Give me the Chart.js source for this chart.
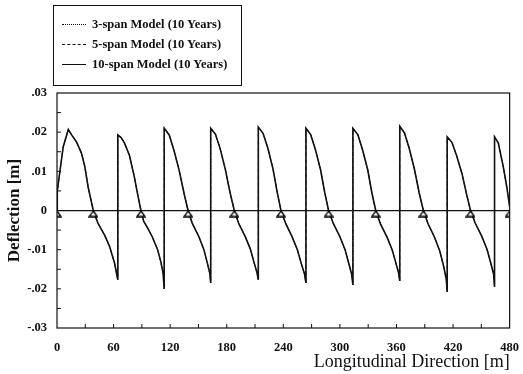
<!DOCTYPE html>
<html>
<head>
<meta charset="utf-8">
<script src="https://cdn.jsdelivr.net/npm/chart.js@4"></script>
<style>
  html, body { margin: 0; padding: 0; background: #fff; }
  #wrap { position: relative; width: 523px; height: 374px; }
  #legend {
    position: absolute; left: 53px; top: 5px; width: 189px; height: 81px;
    border: 1px solid #111; box-sizing: border-box;
    font: bold 12.5px "Liberation Serif", serif; color: #111;
  }
  .row { position: absolute; left: 0; height: 14px; display: flex; align-items: center; }
  .swatch { width: 24px; margin-left: 8px; margin-right: 6px; border-top: 1px solid #111; }
</style>
</head>
<body>
<div id="wrap">
  <canvas id="chart" width="523" height="374"></canvas>
  <div id="legend">
    <div class="row" style="top:11px"><span class="swatch" style="border-top-style:dotted"></span>3-span Model (10 Years)</div>
    <div class="row" style="top:31px"><span class="swatch" style="border-top-style:dashed"></span>5-span Model (10 Years)</div>
    <div class="row" style="top:51px"><span class="swatch"></span>10-span Model (10 Years)</div>
  </div>
</div>
<script>
// position along the bridge [m], one row per span (jumps repeat the x)
const posM = [
  0, 0.3, 6.6, 12, 15.5, 20.7, 26, 29.5, 33, 38.5, 43.5, 50.5, 55.8, 61, 64.5,
  64.5, 68, 71.6, 76.8, 82, 85.5, 89, 92, 95, 101, 106.7, 110, 112.5, 113.7,
  113.7, 119, 124, 129.5, 134.7, 139, 143.5, 150.5, 155.8, 159.5, 162, 163,
  163, 168, 173, 178.5, 183.5, 188, 192.5, 199.5, 205, 209, 212, 213.5,
  213.5, 218.5, 223.5, 229, 233.5, 237.5, 242.5, 249.5, 255, 259, 262.5, 264,
  264, 269, 274, 279.5, 284, 288, 293, 300, 305.5, 309.5, 312.5, 313.8,
  313.8, 319, 324, 329.5, 334, 338, 343, 350, 355.5, 359.5, 362.3, 363.5,
  363.5, 368.5, 373.5, 379, 384, 388.5, 393.5, 400.5, 406, 410, 412.8, 413.8,
  413.8, 418.8, 423.8, 429.5, 434.5, 438.5, 443.5, 450.5, 456, 460, 463, 464,
  464, 468, 473.4, 477, 480
];

// 10-span model deflection [m]
const defl10 = [
  0, 0.005, 0.0163, 0.0207, 0.0193, 0.0175, 0.0146, 0.0112, 0.006, 0, -0.0033, -0.0063, -0.0092, -0.0134, -0.0177,
  0.0193, 0.0186, 0.0172, 0.0141, 0.0086, 0.0042, 0, -0.0028, -0.004, -0.0067, -0.010, -0.013, -0.016, -0.020,
  0.021, 0.0193, 0.0154, 0.0103, 0.0044, 0, -0.0033, -0.0067, -0.010, -0.0135, -0.016, -0.0185,
  0.021, 0.0195, 0.0158, 0.0105, 0.0046, 0, -0.0032, -0.0066, -0.0098, -0.0133, -0.0158, -0.0177,
  0.0213, 0.0197, 0.016, 0.0107, 0.0047, 0, -0.0033, -0.0068, -0.0101, -0.0135, -0.0162, -0.0185,
  0.021, 0.0194, 0.0156, 0.0104, 0.0045, 0, -0.0033, -0.0067, -0.010, -0.0136, -0.0163, -0.019,
  0.021, 0.0194, 0.0155, 0.0104, 0.0044, 0, -0.0034, -0.0068, -0.0101, -0.0135, -0.016, -0.018,
  0.0215, 0.0198, 0.0159, 0.0106, 0.0046, 0, -0.0034, -0.0069, -0.0104, -0.0142, -0.0175, -0.0208,
  0.0188, 0.0174, 0.014, 0.0094, 0.004, 0, -0.0032, -0.0066, -0.0099, -0.0134, -0.0162, -0.0195,
  0.0188, 0.0172, 0.011, 0.006, 0.001
];

// the 3- and 5-span curves lie on top of the 10-span one in the picture
const defl5 = defl10;
const defl3 = defl10;

// support locations [m]
const supports = [0, 38.5, 89, 139, 188, 237.5, 288, 338, 388.5, 438.5, 480];

const xTicks = [0, 60, 120, 180, 240, 300, 360, 420, 480];

const toPts = ys => posM.map((x, i) => ({ x: x, y: ys[i] }));

// triangle marker with its apex on the point
const tri = document.createElement('canvas');
tri.width = 10; tri.height = 14;
(function () {
  const c = tri.getContext('2d');
  c.beginPath();
  c.moveTo(5, 7.5); c.lineTo(9, 13); c.lineTo(1, 13); c.closePath();
  c.fillStyle = '#fff'; c.fill();
  c.lineWidth = 1.3; c.strokeStyle = '#000'; c.stroke();
})();

// frame and inward ticks
const framePlugin = {
  id: 'frame',
  afterDatasetsDraw(chart) {
    const { ctx, chartArea: a, scales } = chart;
    ctx.save();
    ctx.strokeStyle = '#111';
    ctx.lineWidth = 1.2;
    ctx.strokeRect(a.left, a.top, a.right - a.left, a.bottom - a.top);
    ctx.lineWidth = 1;
    ctx.beginPath();
    for (let v = 30; v < 480; v += 30) {
      const px = scales.x.getPixelForValue(v);
      ctx.moveTo(px, a.bottom); ctx.lineTo(px, a.bottom - 4);
    }
    for (let k = -5; k <= 5; k++) {
      const py = scales.y.getPixelForValue(k * 0.005);
      ctx.moveTo(a.left, py); ctx.lineTo(a.left + 4, py);
    }
    ctx.stroke();
    ctx.restore();
  }
};

const serif = '"Liberation Serif", "Times New Roman", serif';

new Chart(document.getElementById('chart'), {
  type: 'scatter',
  data: {
    datasets: [
      {
        label: 'Supports',
        data: supports.map(x => ({ x: x, y: 0 })),
        pointStyle: tri, pointRadius: 5, showLine: false, order: 0
      },
      {
        label: '10-span Model (10 Years)',
        data: toPts(defl10),
        showLine: true, borderColor: '#111', borderWidth: 1.6,
        pointRadius: 0, tension: 0, order: 1
      },
      {
        label: '5-span Model (10 Years)',
        data: toPts(defl5),
        showLine: true, borderColor: '#333', borderWidth: 1, borderDash: [4, 3],
        pointRadius: 0, tension: 0, order: 2
      },
      {
        label: '3-span Model (10 Years)',
        data: toPts(defl3),
        showLine: true, borderColor: '#333', borderWidth: 1, borderDash: [1, 2],
        pointRadius: 0, tension: 0, order: 3
      }
    ]
  },
  options: {
    responsive: false,
    animation: false,
    layout: { padding: { top: 93, right: 10, left: 0, bottom: 0 } },
    plugins: { legend: { display: false }, tooltip: { enabled: false } },
    scales: {
      x: {
        type: 'linear', min: 0, max: 480,
        afterBuildTicks: s => { s.ticks = xTicks.map(v => ({ value: v })); },
        afterFit: s => { s.height = 46; },
        grid: { display: false },
        border: { display: false },
        ticks: { color: '#111', padding: 4, maxRotation: 0, font: { family: serif, size: 12.5, weight: 'bold' } },
        title: {
          display: true, text: 'Longitudinal Direction [m]', align: 'end',
          color: '#111', padding: { top: 0, bottom: 1 },
          font: { family: serif, size: 18 }
        }
      },
      y: {
        min: -0.03, max: 0.03,
        afterFit: s => { s.width = 57; },
        grid: {
          drawTicks: false,
          color: c => (Math.abs(c.tick.value) < 1e-9 ? '#111' : 'rgba(0,0,0,0)'),
          lineWidth: 1.3
        },
        border: { display: false },
        ticks: {
          stepSize: 0.01, padding: 10, color: '#111',
          font: { family: serif, size: 12.5, weight: 'bold' },
          callback: v => {
            const r = Math.round(v * 100) / 100;
            return r === 0 ? '0' : r.toFixed(2).replace('0.', '.');
          }
        },
        title: {
          display: true, text: 'Deflection [m]', color: '#111',
          padding: { top: 4, bottom: 0 },
          font: { family: serif, size: 17, weight: 'bold' }
        }
      }
    }
  },
  plugins: [framePlugin]
});
</script>
</body>
</html>
